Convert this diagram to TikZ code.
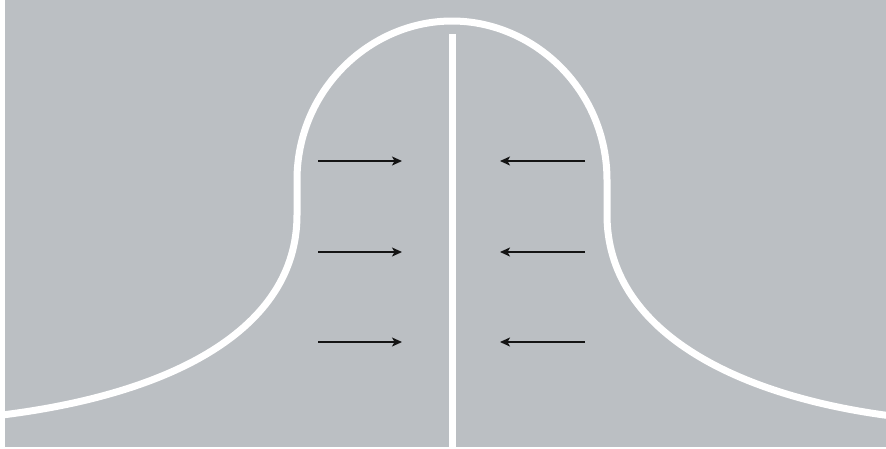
\documentclass[tikz,border=0pt]{standalone}
\usetikzlibrary{arrows.meta}
\definecolor{bggray}{RGB}{187,191,195}
\definecolor{arrowblack}{RGB}{20,20,20}
\tikzset{
  whiteline/.style={white,line width=7pt},
  pusharrow/.style={arrowblack,line width=1.3pt,-{Stealth[length=10pt,width=9pt,inset=2.5pt]}}
}
\begin{document}
\begin{tikzpicture}[x=1pt,y=-1pt]
\useasboundingbox (0,0) rectangle (886,448);
\fill[white] (0,0) rectangle (886,448);
\fill[bggray] (5,0) rectangle (886,446.5);
\begin{scope}
\clip (5,0) rectangle (886,446.5);
% bell curve
\draw[whiteline,line cap=butt,line join=round]
  (-2,415.5) .. controls (170,395) and (297,330) .. (297,215)
  -- (297,180)
  .. controls (297,90) and (370,21) .. (452,21)
  .. controls (534,21) and (607,90) .. (607,180)
  -- (607,215)
  .. controls (607,330) and (734,395) .. (888,415.5);
% centre wall
\coordinate (wtop) at (452,34);
\coordinate (wbot) at (452,450);
\draw[whiteline] (wtop) -- (wbot);
\end{scope}
% arrows
\foreach \y/\n in {161/a,252/b,342/c}{
  \coordinate (l\n s) at (318,\y);
  \coordinate (l\n e) at (402,\y);
  \coordinate (r\n s) at (585,\y);
  \coordinate (r\n e) at (500,\y);
  \draw[pusharrow] (l\n s) -- (l\n e);
  \draw[pusharrow] (r\n s) -- (r\n e);
}
\end{tikzpicture}
\end{document}
